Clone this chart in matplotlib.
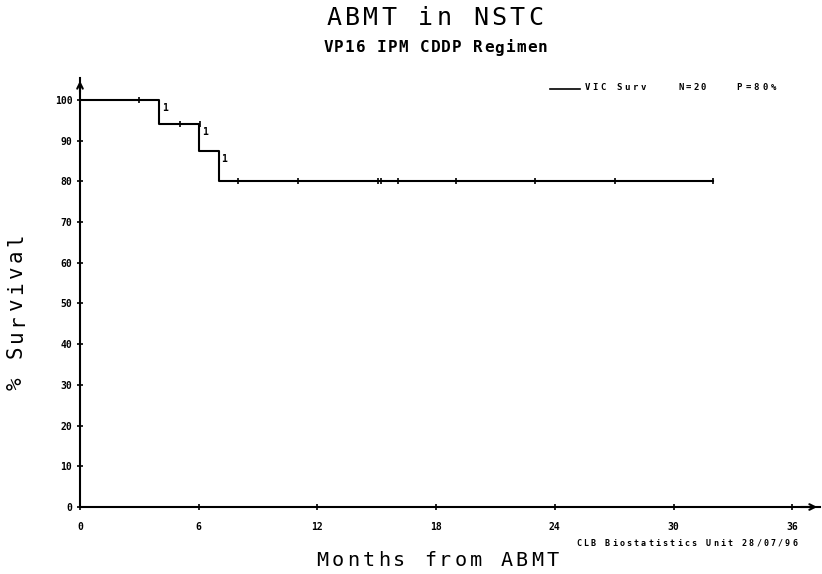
import matplotlib
matplotlib.use("Agg")
import matplotlib.pyplot as plt

# Kaplan-Meier step curve (months, % survival)
event_months = [0, 4, 6, 7]
event_surv = [100, 94.1, 87.5, 80.0]
end_month = 32.0

# censored observations
cens_months = [3.0, 5.05, 6.05, 8.0, 11.0, 15.05, 15.2, 16.05, 19.0, 23.0, 27.05, 32.0]
cens_surv = [100, 94.1, 94.1, 80, 80, 80, 80, 80, 80, 80, 80, 80]

xticks = [0, 6, 12, 18, 24, 30, 36]
yticks = list(range(0, 101, 10))

mono = "DejaVu Sans Mono"
W, H = 822, 574

fig = plt.figure(figsize=(W / 100, H / 100), dpi=100)
ax = fig.add_axes([80 / W, 1 - 507 / H, 740 / W, 429 / H])


def spaced(x0, y, s, pitch, **kw):
    # plotter-style text: every character on a fixed pitch (pixels, from top-left)
    for i, c in enumerate(s):
        fig.text((x0 + (i + 0.5) * pitch) / W, 1 - y / H, c,
                 ha="center", va="center", family=mono, **kw)


def spaced_up(x, y0, s, pitch, **kw):
    # same, but running bottom-to-top and rotated
    for i, c in enumerate(s):
        fig.text(x / W, 1 - (y0 - (i + 0.5) * pitch) / H, c, rotation=90,
                 ha="center", va="center", family=mono, **kw)


xs = event_months + [end_month]
ys = event_surv + [event_surv[-1]]
ax.step(xs, ys, where="post", color="black", lw=1.5)
ax.plot(cens_months, cens_surv, ls="none", marker="|", ms=5, mew=1.2, color="black")

# number of deaths at each drop
for m, s in zip(event_months[1:], event_surv[:-1]):
    ax.text(m + 0.15, s - 0.8, "1", fontsize=7, fontweight="bold",
            ha="left", va="top", family=mono)

ax.set_xlim(0, 37.4)
ax.set_ylim(0, 105.4)
ax.set_xticks(xticks)
ax.set_yticks(yticks)
ax.tick_params(direction="inout", length=5, width=1.2, labelsize=7)
ax.tick_params(axis="x", pad=8)
ax.tick_params(axis="y", pad=3)
for lab in ax.get_xticklabels() + ax.get_yticklabels():
    lab.set_fontweight("bold")
    lab.set_family(mono)

for side in ("top", "right"):
    ax.spines[side].set_visible(False)
for side in ("left", "bottom"):
    ax.spines[side].set_linewidth(1.5)

# axis arrows
ax.annotate("", xy=(1.0, 0), xycoords="axes fraction", xytext=(0.97, 0),
            arrowprops=dict(arrowstyle="->", lw=1.5, color="black"))
ax.annotate("", xy=(0, 1.0), xycoords="axes fraction", xytext=(0, 0.96),
            arrowprops=dict(arrowstyle="->", lw=1.5, color="black"))

spaced(325, 18, "ABMT in NSTC", 18.3, fontsize=18)
spaced(323, 48, "VP16 IPM CDDP Regimen", 10.7, fontsize=11.5, fontweight="bold")
spaced(315, 561, "Months from ABMT", 15.3, fontsize=14.5)
spaced(575, 543, "CLB Biostatistics Unit 28/07/96", 7.2, fontsize=6, fontweight="bold")
spaced_up(16, 392, "% Survival", 16, fontsize=15)

# legend line and text
fig.add_artist(plt.Line2D([550 / W, 580 / W], [1 - 89 / H, 1 - 89 / H], color="black", lw=1.2))
spaced(583, 87, "VIC Surv", 8.0, fontsize=6.5, fontweight="bold")
spaced(677, 87, "N=20", 7.5, fontsize=6.5, fontweight="bold")
spaced(735, 87, "P=80%", 8.6, fontsize=6.5, fontweight="bold")

fig.savefig("out.png", dpi=100)
